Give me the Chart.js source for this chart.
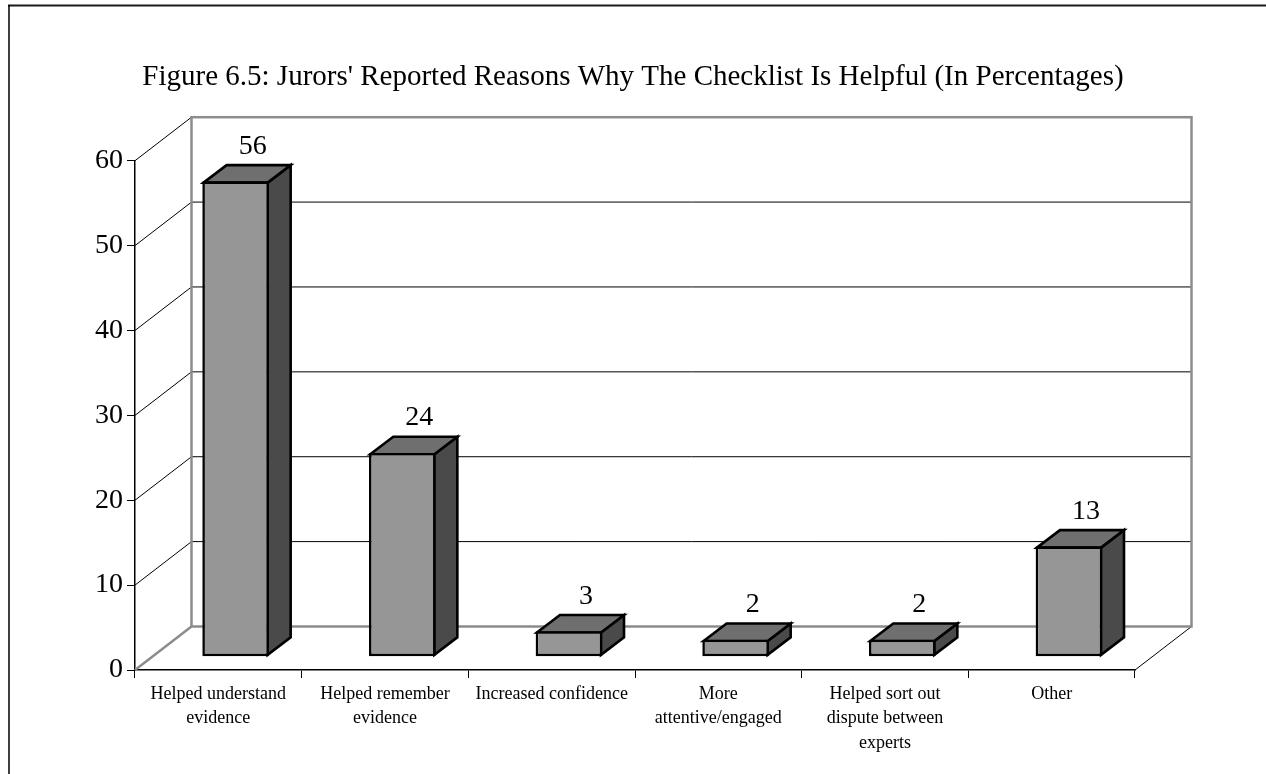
<!DOCTYPE html>
<html>
<head>
<meta charset="utf-8">
<script src="https://cdn.jsdelivr.net/npm/chart.js@4.4.1/dist/chart.umd.min.js"></script>
<style>
  html, body { margin: 0; padding: 0; background: #fff; }
  canvas { display: block; }
</style>
</head>
<body>
<canvas id="c" width="1266" height="774"></canvas>
<script>
// ---- data ----
const chartTitle = "Figure 6.5: Jurors' Reported Reasons Why The Checklist Is Helpful (In Percentages)";
const categories = [
  ["Helped understand", "evidence"],
  ["Helped remember", "evidence"],
  "Increased confidence",
  ["More", "attentive/engaged"],
  ["Helped sort out", "dispute between", "experts"],
  "Other"
];
const percentages = [56, 24, 3, 2, 2, 13];
const axisMin = 0;
const axisMax = 60;
const axisStep = 10;

// ---- look ----
const SERIF = '"Liberation Serif", "Times New Roman", serif';
const WALL = { dx: 56.5, dy: -43.5 };      // depth of the back wall
const BAR_FRONT = { dx: 17.3, dy: -13.3 }; // how far back the bar fronts sit
const BAR_DEPTH = { dx: 23, dy: -17.5 };   // depth of each bar
const BAR_EDGE = 2.6;                      // outline width of the bars
const FRONT_FILL = '#969696';
const TOP_FILL = '#6f6f6f';
const SIDE_FILL = '#4a4a4a';
const WALL_LINE = '#8c8c8c';

function line(ctx, x1, y1, x2, y2, color, width) {
  ctx.beginPath();
  ctx.moveTo(x1, y1);
  ctx.lineTo(x2, y2);
  ctx.strokeStyle = color;
  ctx.lineWidth = width;
  ctx.stroke();
}

function poly(ctx, pts, fill) {
  ctx.beginPath();
  ctx.moveTo(pts[0][0], pts[0][1]);
  for (let i = 1; i < pts.length; i++) ctx.lineTo(pts[i][0], pts[i][1]);
  ctx.closePath();
  ctx.fillStyle = fill;
  ctx.fill();
  ctx.strokeStyle = '#000';
  ctx.lineWidth = BAR_EDGE;
  ctx.lineJoin = 'miter';
  ctx.stroke();
}

// Walls, floor, extruded bar sides, value labels, title and frame
const box3d = {
  id: 'box3d',
  beforeDatasetsDraw(chart) {
    const ctx = chart.ctx;
    const { left, right, top, bottom } = chart.chartArea;
    const ys = chart.scales.y;

    ctx.save();
    // gridlines on the back wall and the left wall
    ys.ticks.forEach(t => {
      const py = ys.getPixelForValue(t.value);
      if (t.value > axisMin && t.value < axisMax) {
        line(ctx, left + WALL.dx, py + WALL.dy, right + WALL.dx, py + WALL.dy, '#000', 1);
      }
      if (t.value > axisMin) {
        line(ctx, left, py, left + WALL.dx, py + WALL.dy, '#000', 1);
      }
    });
    // floor edges
    line(ctx, left, bottom, left + WALL.dx, bottom + WALL.dy, WALL_LINE, 2.5);
    line(ctx, right, bottom, right + WALL.dx, bottom + WALL.dy, '#000', 1);
    // back wall outline
    ctx.strokeStyle = WALL_LINE;
    ctx.lineWidth = 2.5;
    ctx.strokeRect(left + WALL.dx, top + WALL.dy, right - left, bottom - top);
    ctx.restore();

    // bar tops and sides, shifted back into the box
    ctx.save();
    ctx.translate(BAR_FRONT.dx, BAR_FRONT.dy);
    const meta = chart.getDatasetMeta(0);
    const h = BAR_EDGE / 2;
    meta.data.forEach(el => {
      const { x, y, base, width } = el.getProps(['x', 'y', 'base', 'width'], true);
      const L = x - width / 2 + h, R = x + width / 2 - h, T = y + h, B = base - h;
      const dx = BAR_DEPTH.dx, dy = BAR_DEPTH.dy;
      poly(ctx, [[R, T], [R + dx, T + dy], [R + dx, B + dy], [R, B]], SIDE_FILL);
      poly(ctx, [[L, T], [L + dx, T + dy], [R + dx, T + dy], [R, T]], TOP_FILL);
    });
    // stays translated so the bar fronts land in the same plane
  },
  afterDatasetsDraw(chart) {
    const ctx = chart.ctx;
    ctx.restore();
    // value labels above each bar
    const meta = chart.getDatasetMeta(0);
    ctx.save();
    ctx.fillStyle = '#000';
    ctx.font = '28px ' + SERIF;
    ctx.textAlign = 'center';
    ctx.textBaseline = 'alphabetic';
    meta.data.forEach((el, i) => {
      const { x, y } = el.getProps(['x', 'y'], true);
      ctx.fillText(String(percentages[i]),
        x + BAR_FRONT.dx + 17,
        y + BAR_FRONT.dy + BAR_DEPTH.dy - 10);
    });
    ctx.restore();
  },
  afterDraw(chart) {
    const ctx = chart.ctx;
    ctx.save();
    // title, centred on the page
    ctx.fillStyle = '#000';
    ctx.font = '29px ' + SERIF;
    ctx.textAlign = 'center';
    ctx.textBaseline = 'middle';
    ctx.fillText(chartTitle, chart.width / 2, 77);
    // outer frame
    line(ctx, 8, 5.5, chart.width, 5.5, '#1a1a1a', 2);
    line(ctx, 9, 5, 9, chart.height, '#000', 1.5);
    ctx.restore();
  }
};

new Chart(document.getElementById('c'), {
  type: 'bar',
  data: {
    labels: categories,
    datasets: [{
      data: percentages,
      backgroundColor: FRONT_FILL,
      borderColor: '#000',
      borderWidth: BAR_EDGE,
      borderSkipped: false,
      barPercentage: 0.4,
      categoryPercentage: 1,
      clip: false
    }]
  },
  options: {
    responsive: false,
    animation: false,
    events: [],
    layout: { padding: { left: 0, right: 131, top: 160.7, bottom: 0 } },
    plugins: {
      legend: { display: false },
      tooltip: { enabled: false },
      title: { display: false }
    },
    scales: {
      x: {
        type: 'category',
        offset: true,
        grid: {
          display: true, drawOnChartArea: false, drawTicks: true,
          tickLength: 8, color: '#000', lineWidth: 1, offset: true
        },
        border: { display: true, color: '#000', width: 1.5 },
        ticks: {
          color: '#000',
          font: { family: SERIF, size: 18, lineHeight: 1.36 },
          maxRotation: 0, minRotation: 0, autoSkip: false, padding: 4
        },
        afterFit(scale) { scale.height = 104; }
      },
      y: {
        min: axisMin,
        max: axisMax,
        grid: {
          display: true, drawOnChartArea: false, drawTicks: true,
          tickLength: 8, color: '#000', lineWidth: 1
        },
        border: { display: true, color: '#000', width: 1.5 },
        ticks: {
          stepSize: axisStep,
          color: '#000',
          font: { family: SERIF, size: 28 },
          padding: 4
        },
        afterFit(scale) { scale.width = 135; }
      }
    }
  },
  plugins: [box3d]
});
</script>
</body>
</html>
